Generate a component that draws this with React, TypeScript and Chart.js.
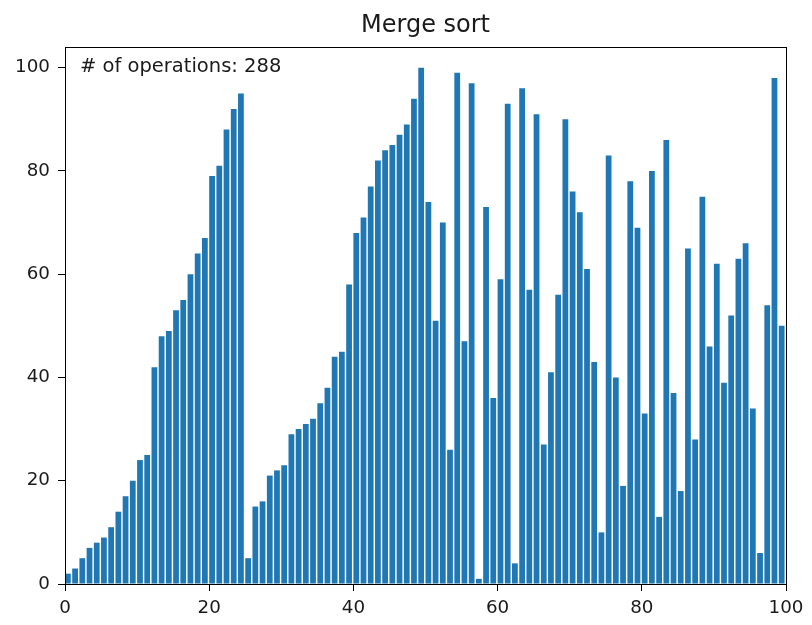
import React, { useEffect, useRef } from "react";
import { Chart, registerables } from "chart.js";

Chart.register(...registerables);

const TITLE = "Merge sort";
const ANNOTATION = "# of operations: 288";

const values: number[] = [
  2, 3, 5, 7, 8, 9, 11, 14, 17, 20,
  24, 25, 42, 48, 49, 53, 55, 60, 64, 67,
  79, 81, 88, 92, 95, 5, 15, 16, 21, 22,
  23, 29, 30, 31, 32, 35, 38, 44, 45, 58,
  68, 71, 77, 82, 84, 85, 87, 89, 94, 100,
  74, 51, 70, 26, 99, 47, 97, 1, 73, 36,
  59, 93, 4, 96, 57, 91, 27, 41, 56, 90,
  76, 72, 61, 43, 10, 83, 40, 19, 78, 69,
  33, 80, 13, 86, 37, 18, 65, 28, 75, 46,
  62, 39, 52, 63, 66, 34, 6, 54, 98, 50,
];

const positions: number[] = values.map((_, i) => i);

const xTicks: number[] = [0, 20, 40, 60, 80, 100];
const yTicks: number[] = [0, 20, 40, 60, 80, 100];

const X_MIN = 0;
const X_MAX = 100;
const Y_MIN = 0;
const Y_MAX = 104;

const FONT = "'DejaVu Sans', sans-serif";
const BAR_COLOR = "#1f77b4";
const TEXT_COLOR = "#1a1a1a";

export default function App() {
  const canvasRef = useRef<HTMLCanvasElement | null>(null);

  useEffect(() => {
    document.body.style.margin = "0";
    const canvas = canvasRef.current;
    if (!canvas) return;

    const framePlugin = {
      id: "frameAndNote",
      afterDraw(chart: any) {
        const { ctx, chartArea } = chart;
        ctx.save();
        ctx.strokeStyle = "#000";
        ctx.lineWidth = 1;
        ctx.strokeRect(
          Math.round(chartArea.left) + 0.5,
          Math.round(chartArea.top) + 0.5,
          Math.round(chartArea.right - chartArea.left),
          Math.round(chartArea.bottom - chartArea.top)
        );
        ctx.fillStyle = TEXT_COLOR;
        ctx.font = `19.5px ${FONT}`;
        ctx.textAlign = "left";
        ctx.textBaseline = "alphabetic";
        ctx.fillText(ANNOTATION, chartArea.left + 15, chartArea.top + 25);
        ctx.restore();
      },
    };

    const chart = new Chart(canvas, {
      type: "bar",
      data: {
        datasets: [
          {
            data: positions.map((p, i) => ({ x: p + 0.4, y: values[i] })),
            backgroundColor: BAR_COLOR,
            borderWidth: 0,
            barPercentage: 0.8,
            categoryPercentage: 1.0,
          },
        ],
      },
      options: {
        responsive: false,
        animation: false,
        layout: { padding: { left: 0, right: 26, top: 0, bottom: 0 } },
        plugins: {
          legend: { display: false },
          tooltip: { enabled: false },
          title: {
            display: true,
            text: TITLE,
            fullSize: false,
            color: TEXT_COLOR,
            font: { family: FONT, size: 24, weight: "normal", lineHeight: 1.2 },
            padding: { top: 11.4, bottom: 6.8 },
          },
        },
        scales: {
          x: {
            type: "linear",
            min: X_MIN,
            max: X_MAX,
            offset: false,
            grid: {
              display: true,
              offset: false,
              drawOnChartArea: false,
              drawTicks: true,
              tickLength: 7,
              tickColor: "#000",
              lineWidth: 1,
            },
            border: { display: true, color: "#000", width: 1 },
            ticks: {
              color: TEXT_COLOR,
              font: { family: FONT, size: 18.3 },
              padding: 6,
              maxRotation: 0,
              autoSkip: false,
            },
            afterBuildTicks(scale: any) {
              scale.ticks = xTicks.map((v) => ({ value: v }));
            },
            afterFit(scale: any) {
              scale.height = 41;
            },
          },
          y: {
            min: Y_MIN,
            max: Y_MAX,
            grid: {
              display: true,
              offset: false,
              drawOnChartArea: false,
              drawTicks: true,
              tickLength: 7,
              tickColor: "#000",
              lineWidth: 1,
            },
            border: { display: true, color: "#000", width: 1 },
            ticks: {
              color: TEXT_COLOR,
              font: { family: FONT, size: 18.3 },
              padding: 8,
              autoSkip: false,
            },
            afterBuildTicks(scale: any) {
              scale.ticks = yTicks.map((v) => ({ value: v }));
            },
            afterFit(scale: any) {
              scale.width = 65;
            },
          },
        },
      },
      plugins: [framePlugin],
    });

    return () => {
      chart.destroy();
    };
  }, []);

  return (
    <div style={{ width: 812, height: 625, background: "#fff" }}>
      <canvas ref={canvasRef} width={812} height={625} style={{ display: "block" }} />
    </div>
  );
}
